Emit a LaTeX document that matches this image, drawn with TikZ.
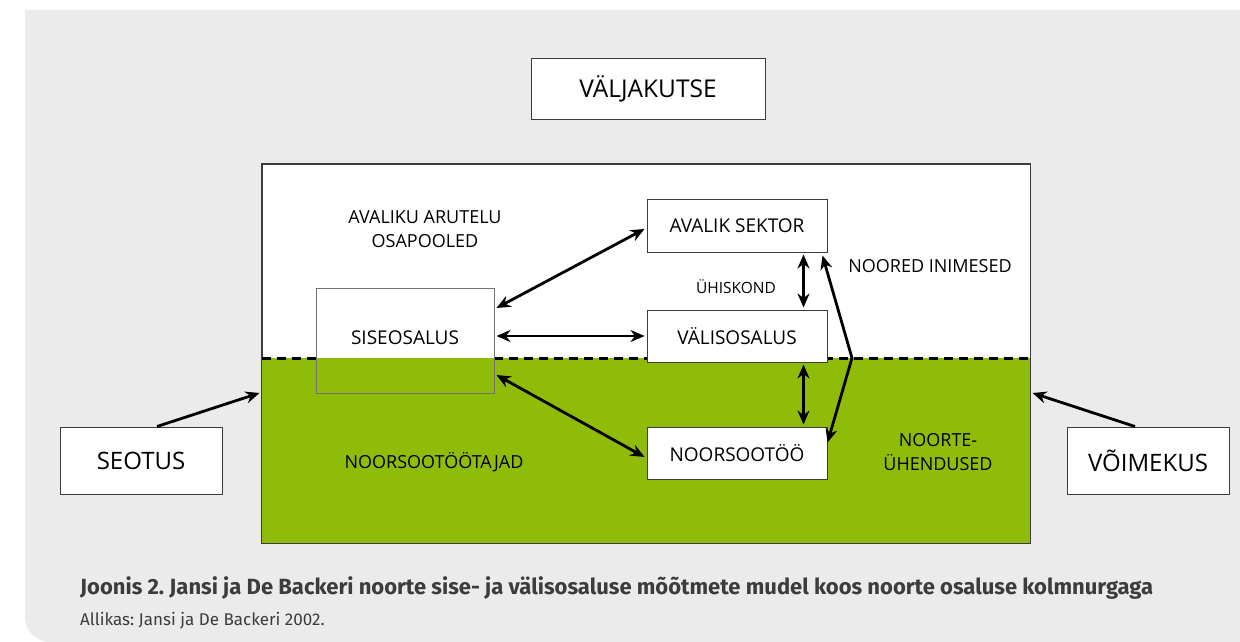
\documentclass[tikz,border=0pt]{standalone}
\usepackage{fontspec}
\setmainfont{Open Sans}
\newfontfamily\capfont{Fira Sans}
\usetikzlibrary{arrows.meta,calc}
\frenchspacing
\definecolor{bggray}{RGB}{235,235,235}
\definecolor{fieldgreen}{RGB}{143,188,8}
\definecolor{captext}{RGB}{60,60,60}
\definecolor{boxline}{RGB}{60,60,60}
\tikzset{
  box/.style={draw=boxline,line width=1pt,fill=white,inner sep=0pt,font=\fontsize{19}{22}\selectfont,text=black},
  bigbox/.style={box,font=\fontsize{24.5}{28}\selectfont},
  lbl/.style={inner sep=0pt,font=\fontsize{18}{24.5}\selectfont,align=center,text=black},
  arr/.style={line width=2.8pt,{Stealth[length=14pt,width=12pt]}-{Stealth[length=14pt,width=12pt]}},
  sarr/.style={line width=2.8pt,-{Stealth[length=14pt,width=12pt]}},
  divider/.style={line width=3pt,dash pattern=on 9pt off 6pt}
}
\begin{document}
\begin{tikzpicture}[x=1pt,y=-1pt]
\useasboundingbox (0,0) rectangle (1240,642);
% background
\fill[bggray] (25,10) -- (25,617) .. controls (25,631) and (36,642) .. (50,642) -- (1240,642) -- (1240,10) -- cycle;
% field
\node[draw=boxline,line width=1pt,fill=white,minimum width=768pt,minimum height=379pt,inner sep=0pt] (field) at (646,353.5) {};
\fill[fieldgreen] (262,358) rectangle (1030,543);
\draw[boxline,line width=1pt] (field.south west) rectangle (field.north east);
% divider (drawn beneath the boxes)
\coordinate (dl) at (316,358);
\coordinate (dr) at (494,358);
\draw[divider] (field.west |- dl) -- (dl);
\draw[divider] (dr) -- (field.east |- dr);
% top box
\node[bigbox,minimum width=234pt,minimum height=60pt] (valj) at (648,89) {VÄLJAKUTSE};
% inner boxes
\node[box,fill=none,draw=black!55,minimum width=178pt,minimum height=105pt] (sise) at (405,340.5) {\raisebox{5pt}{SISEOSALUS}};
\node[box,minimum width=180pt,minimum height=53pt] (avalik) at (737,225.5) {AVALIK SEKTOR};
\node[box,minimum width=180pt,minimum height=52pt] (valis) at (737,336) {VÄLISOSALUS};
\node[box,minimum width=180pt,minimum height=52pt] (noorsoo) at (737,453) {NOORSOOTÖÖ};
\node[box,font=\fontsize{24}{28}\selectfont,minimum width=162pt,minimum height=67pt] (seotus) at (141,460.5) {SEOTUS};
\node[box,font=\fontsize{24}{28}\selectfont,minimum width=162pt,minimum height=67pt] (voime) at (1148,460.5) {VÕIMEKUS};
% labels
\node[lbl] (arutelu) at (425,229) {AVALIKU ARUTELU\\OSAPOOLED};
\node[lbl,font=\fontsize{15.5}{18}\selectfont] (uhiskond) at (736,287) {ÜHISKOND};
\node[lbl] (noored) at (930,266) {NOORED INIMESED};
\node[lbl] (tootajad) at (434,462) {NOORSOOTÖÖTAJAD};
\node[lbl] (uhendused) at (938,452) {NOORTE-\\ÜHENDUSED};
% arrows
\draw[arr] ([xshift=2pt,yshift=32.5pt]sise.east) -- ([xshift=-2pt,yshift=-3.5pt]avalik.west);
\draw[arr] ([xshift=2pt]sise.east |- valis.west) -- ([xshift=-2pt]valis.west);
\draw[arr] ([xshift=2pt,yshift=-34.5pt]sise.east) -- ([xshift=-2pt,yshift=-4pt]noorsoo.west);
\draw[arr] ([xshift=-24pt,yshift=-2pt]avalik.south east) -- ([xshift=-24pt,yshift=2pt]valis.north east);
\draw[arr] ([xshift=-24pt,yshift=-2pt]valis.south east) -- ([xshift=-24pt,yshift=2pt]noorsoo.north east);
\coordinate (bend) at (852,358);
\draw[arr,line join=miter] ([xshift=-5pt,yshift=-3pt]avalik.south east) -- (bend) -- ([yshift=-16pt]noorsoo.north east);
\draw[sarr] ([xshift=16pt]seotus.north) -- ([xshift=-2pt,yshift=-39.5pt]field.west);
\draw[sarr] ([xshift=-13pt]voime.north) -- ([xshift=2pt,yshift=-39.5pt]field.east);
% caption
\node[anchor=base west,inner sep=0pt,text=captext,font=\capfont\bfseries\fontsize{22}{26}\selectfont] (caption) at (80,594) {Joonis 2. Jansi ja De Backeri noorte sise- ja välisosaluse mõõtmete mudel koos noorte osaluse kolmnurgaga};
\node[anchor=base west,inner sep=0pt,text=captext,font=\capfont\fontsize{17}{20}\selectfont] (source) at (80,625) {Allikas: Jansi ja De Backeri 2002.};
\end{tikzpicture}
\end{document}
